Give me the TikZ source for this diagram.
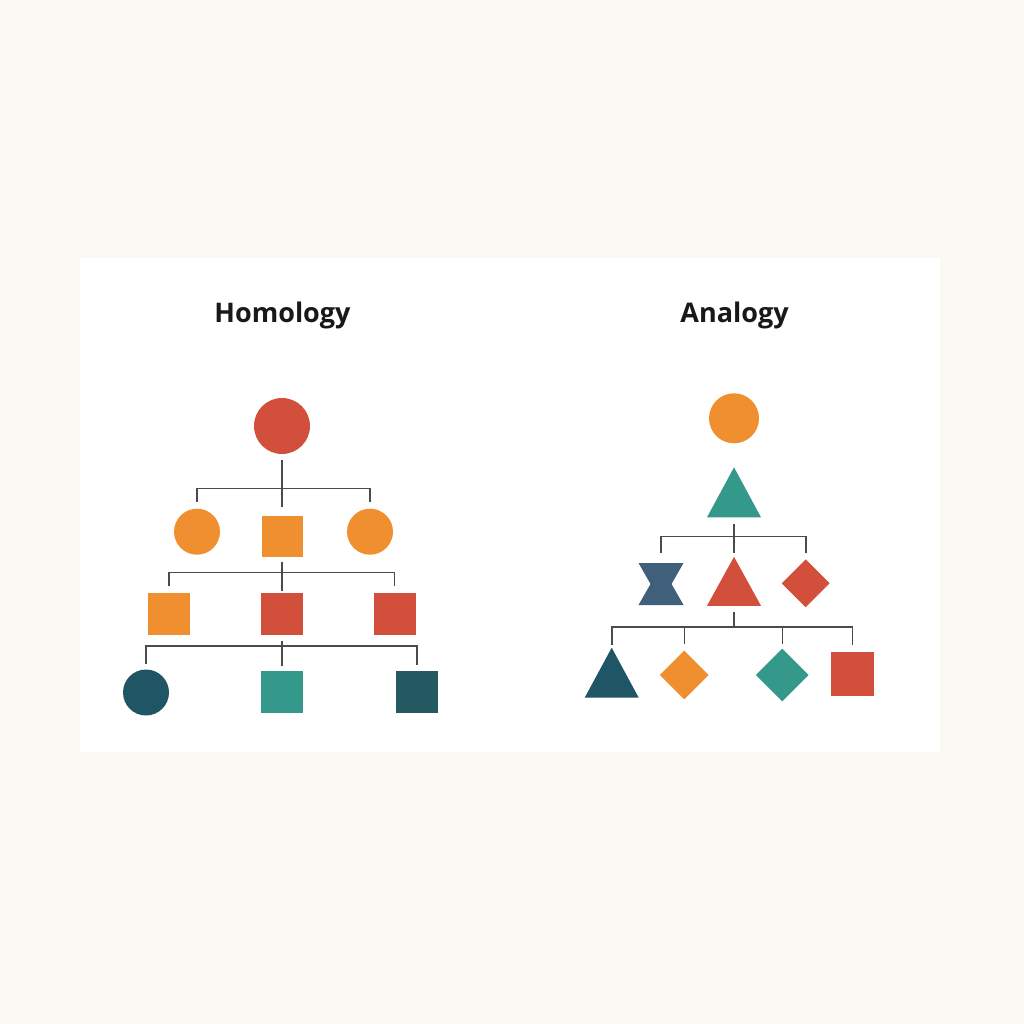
\documentclass[tikz,border=0pt]{standalone}
\usepackage{fontspec}
\setmainfont{Open Sans}
\usetikzlibrary{shapes.geometric}
\definecolor{bgc}{HTML}{FAF9F4}
\definecolor{cred}{HTML}{D24F3B}
\definecolor{corange}{HTML}{EF8F2F}
\definecolor{cteal}{HTML}{34988B}
\definecolor{cdark}{HTML}{1F5565}
\definecolor{cdarksq}{HTML}{265A63}
\definecolor{cslate}{HTML}{3F5F7A}
\definecolor{cline}{HTML}{4A4C4C}
\tikzset{
  conn/.style={draw=cline, line width=1.6pt},
  circ/.style={circle, inner sep=0pt, minimum size=#1},
  sq/.style={rectangle, inner sep=0pt, minimum size=#1},
  dia/.style={diamond, inner sep=0pt, minimum width=#1, minimum height=#1},
  tri/.style 2 args={rectangle, inner sep=0pt, minimum width=#1, minimum height=#2,
    path picture={\fill[\tikzcolor] (path picture bounding box.south west) -- (path picture bounding box.south east) -- (path picture bounding box.north) -- cycle;}},
  hourglass/.style 2 args={rectangle, inner sep=0pt, minimum width=#1, minimum height=#2,
    path picture={\fill[\tikzcolor] (path picture bounding box.north west) -- (path picture bounding box.north east) -- ([xshift=-12pt]path picture bounding box.east) -- (path picture bounding box.south east) -- (path picture bounding box.south west) -- ([xshift=12pt]path picture bounding box.west) -- cycle;}},
  ttl/.style={font=\fontsize{27}{30}\selectfont\bfseries, text=black!90, anchor=base, inner sep=0pt}
}
\begin{document}
\begin{tikzpicture}[x=1pt,y=-1pt]
\fill[bgc] (0,0) rectangle (1024,1024);
\useasboundingbox (0,0) rectangle (1024,1024);
\fill[white] (80,258) rectangle (940,752);
% titles
\node[ttl] (tH) at (282.5,322.5) {Homology};
\node[ttl] (tA) at (734.5,322.5) {Analogy};
% ---------- Homology tree ----------
\node[circ=56pt, fill=cred] (H0) at (282,426) {};
\node[circ=46pt, fill=corange] (H1a) at (197,531.7) {};
\node[sq=41pt, fill=corange] (H1b) at (282,536) {};
\node[circ=46pt, fill=corange] (H1c) at (370,531.7) {};
\node[sq=42pt, fill=corange] (H2a) at (169,613.5) {};
\node[sq=42pt, fill=cred] (H2b) at (282,613.5) {};
\node[sq=42pt, fill=cred] (H2c) at (394.5,613.5) {};
\node[circ=46pt, fill=cdark] (H3a) at (146,692.5) {};
\node[sq=42pt, fill=cteal] (H3b) at (282,692) {};
\node[sq=42pt, fill=cdarksq] (H3c) at (417,692) {};
\draw[conn] ([yshift=-6pt]H0.south) -- ([yshift=8pt]H1b.north);
\draw[conn] ([yshift=7pt]H1a.north) |- ([yshift=27pt]H1b.north) -| ([yshift=7pt]H1c.north);
\draw[conn] ([yshift=-5pt]H1b.south) -- ([yshift=1pt]H2b.north);
\draw[conn] ([yshift=6pt]H2a.north) |- ([yshift=20pt]H2b.north) -| ([yshift=6pt]H2c.north);
\draw[conn] ([yshift=-6pt]H2b.south) -- ([yshift=5pt]H3b.north);
\draw[conn] ([yshift=5pt]H3a.north) |- ([yshift=25pt]H3b.north) -| ([yshift=6pt]H3c.north);
% ---------- Analogy tree ----------
\def\tikzcolor{cteal}
\node[circ=50pt, fill=corange] (A0) at (734,418.3) {};
\node[tri={54pt}{50pt}] (A1) at (734,492.3) {};
\def\tikzcolor{cslate}
\node[hourglass={45pt}{42pt}] (A2a) at (661,584) {};
\def\tikzcolor{cred}
\node[tri={54pt}{49pt}] (A2b) at (734,581.3) {};
\node[dia=48pt, fill=cred] (A2c) at (805.7,583.3) {};
\def\tikzcolor{cdark}
\node[tri={54pt}{50pt}] (A3a) at (611.7,672.7) {};
\node[dia=49pt, fill=corange] (A3b) at (684.3,675) {};
\node[dia=53pt, fill=cteal] (A3c) at (782.3,675) {};
\node[sq=43.5pt, fill=cred] (A3d) at (852.5,674) {};
\coordinate (Abar) at (734,626.7);
\draw[conn] ([yshift=-6pt]A1.south) -- ([yshift=4pt]A2b.north);
\draw[conn] ([yshift=10pt]A2a.north) |- ([yshift=20pt]A2b.north) -| ([yshift=6pt]A2c.north);
\draw[conn] ([yshift=-5.7pt]A2b.south) -- (Abar);
\draw[conn] ([yshift=3pt]A3a.north) |- (Abar) -| ([yshift=7pt]A3d.north);
\draw[conn] ([yshift=6pt]A3b.north) -- (A3b.north |- Abar);
\draw[conn] ([yshift=4pt]A3c.north) -- (A3c.north |- Abar);
\end{tikzpicture}
\end{document}
